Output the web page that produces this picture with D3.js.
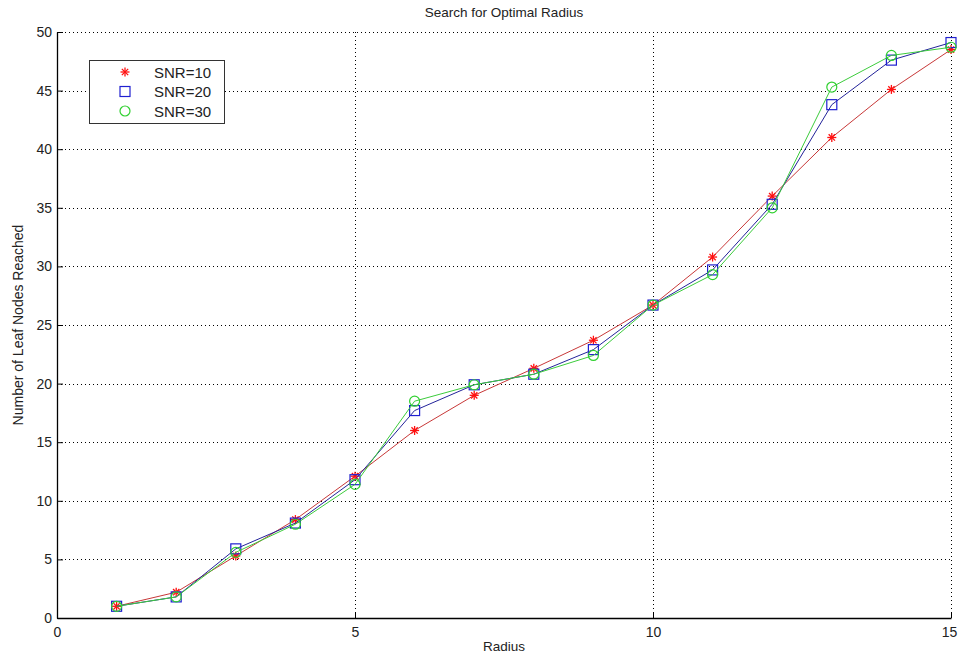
<!DOCTYPE html>
<html>
<head>
<meta charset="utf-8">
<script src="https://cdn.jsdelivr.net/npm/d3@7/dist/d3.min.js"></script>
<style>
  html, body { margin: 0; padding: 0; background: #fff; }
  svg { display: block; font-family: "Liberation Sans", Arial, sans-serif; }
</style>
</head>
<body>
<svg id="chart" width="958" height="656"></svg>
<script>
// Radius values (x) and leaf-node counts for each SNR setting
const radius = [1, 2, 3, 4, 5, 6, 7, 8, 9, 10, 11, 12, 13, 14, 15];
const snr10 = [1.0, 2.2, 5.3, 8.4, 12.1, 16.0, 19.0, 21.3, 23.7, 26.7, 30.8, 36.0, 41.0, 45.1, 48.5];
const snr20 = [1.0, 1.8, 5.9, 8.1, 11.8, 17.7, 19.9, 20.8, 22.9, 26.7, 29.7, 35.3, 43.8, 47.6, 49.1];
const snr30 = [1.0, 1.8, 5.6, 8.0, 11.4, 18.5, 19.9, 20.8, 22.4, 26.7, 29.3, 35.0, 45.3, 48.0, 48.7];
const seriesNames = ["SNR=10", "SNR=20", "SNR=30"];
const xTicks = [0, 5, 10, 15];
const yTicks = [0, 5, 10, 15, 20, 25, 30, 35, 40, 45, 50];

const series = [
  { name: seriesNames[0], values: snr10, line: "#c83838", marker: "#ff1010", shape: "star" },
  { name: seriesNames[1], values: snr20, line: "#23239a", marker: "#2020d0", shape: "square" },
  { name: seriesNames[2], values: snr30, line: "#3ccc3c", marker: "#30d030", shape: "circle" }
];

const svg = d3.select("#chart");
const plotLeft = 57, plotRight = 951, plotTop = 32, plotBottom = 618;

const x = d3.scaleLinear().domain([0, 15]).range([plotLeft, plotRight]);
const y = d3.scaleLinear().domain([0, 50]).range([plotBottom, plotTop]);

// dotted grid
const grid = svg.append("g").attr("stroke", "#000").attr("stroke-width", 1)
  .attr("stroke-dasharray", "1,3").attr("shape-rendering", "crispEdges");
grid.selectAll("line.gx").data(xTicks.filter(d => d > 0)).join("line")
  .attr("x1", d => Math.round(x(d)) + 0.5).attr("x2", d => Math.round(x(d)) + 0.5)
  .attr("y1", plotTop).attr("y2", plotBottom);
grid.selectAll("line.gy").data(yTicks.filter(d => d > 0)).join("line")
  .attr("y1", d => Math.round(y(d)) + 0.5).attr("y2", d => Math.round(y(d)) + 0.5)
  .attr("x1", plotLeft).attr("x2", plotRight);

// axes: ticks point inward
const xAxis = d3.axisBottom(x).tickValues(xTicks).tickSizeInner(-6).tickSizeOuter(0).tickPadding(9);
const yAxis = d3.axisLeft(y).tickValues(yTicks).tickSizeInner(-6).tickSizeOuter(0).tickPadding(5);

const gx = svg.append("g").attr("transform", `translate(0,${plotBottom})`).call(xAxis);
const gy = svg.append("g").attr("transform", `translate(${plotLeft},0)`).call(yAxis);
[gx, gy].forEach(g => {
  g.select(".domain").attr("stroke", "#000").attr("stroke-width", 1.3);
  g.selectAll(".tick line").attr("stroke", "#000");
  g.selectAll(".tick text").attr("font-size", 14).attr("fill", "#222")
    .attr("font-family", "'Liberation Sans', Arial, sans-serif");
});
// keep the last x label inside the canvas edge
gx.selectAll(".tick text").filter(d => d === 15).attr("dx", -2);

// markers
function drawMarker(g, shape, color, cx, cy) {
  if (shape === "star") {
    const s = 4.5;
    const p = g.append("g").attr("stroke", color).attr("stroke-width", 1.3);
    p.append("line").attr("x1", cx - s).attr("x2", cx + s).attr("y1", cy).attr("y2", cy);
    p.append("line").attr("x1", cx).attr("x2", cx).attr("y1", cy - s).attr("y2", cy + s);
    p.append("line").attr("x1", cx - s * 0.7).attr("x2", cx + s * 0.7).attr("y1", cy - s * 0.7).attr("y2", cy + s * 0.7);
    p.append("line").attr("x1", cx - s * 0.7).attr("x2", cx + s * 0.7).attr("y1", cy + s * 0.7).attr("y2", cy - s * 0.7);
  } else if (shape === "square") {
    g.append("rect").attr("x", cx - 5).attr("y", cy - 5).attr("width", 10).attr("height", 10)
      .attr("fill", "none").attr("stroke", color).attr("stroke-width", 1.2);
  } else {
    g.append("circle").attr("cx", cx).attr("cy", cy).attr("r", 5)
      .attr("fill", "none").attr("stroke", color).attr("stroke-width", 1.2);
  }
}

const line = d3.line().x((d, i) => x(radius[i])).y(d => y(d));

series.forEach(s => {
  const g = svg.append("g");
  g.append("path").attr("d", line(s.values)).attr("fill", "none")
    .attr("stroke", s.line).attr("stroke-width", 1);
  s.values.forEach((v, i) => drawMarker(g, s.shape, s.marker, x(radius[i]), y(v)));
});

// title and axis labels
svg.append("text").attr("x", (plotLeft + plotRight) / 2).attr("y", 17).attr("text-anchor", "middle")
  .attr("font-size", 13.5).attr("fill", "#222").text("Search for Optimal Radius");
svg.append("text").attr("x", (plotLeft + plotRight) / 2).attr("y", 651).attr("text-anchor", "middle")
  .attr("font-size", 13.5).attr("fill", "#222").text("Radius");
svg.append("text").attr("transform", `translate(23,${(plotTop + plotBottom) / 2}) rotate(-90)`)
  .attr("text-anchor", "middle").attr("font-size", 14).attr("fill", "#222")
  .text("Number of Leaf Nodes Reached");

// legend
const lg = svg.append("g");
lg.append("rect").attr("x", 89.5).attr("y", 60.5).attr("width", 135).attr("height", 63)
  .attr("fill", "#fff").attr("stroke", "#333").attr("stroke-width", 1);
series.forEach((s, i) => {
  const cy = 72 + i * 19.5;
  drawMarker(lg, s.shape, s.marker, 125, cy);
  lg.append("text").attr("x", 154).attr("y", cy + 5.5).attr("font-size", 15)
    .attr("fill", "#222").text(s.name);
});
</script>
</body>
</html>
